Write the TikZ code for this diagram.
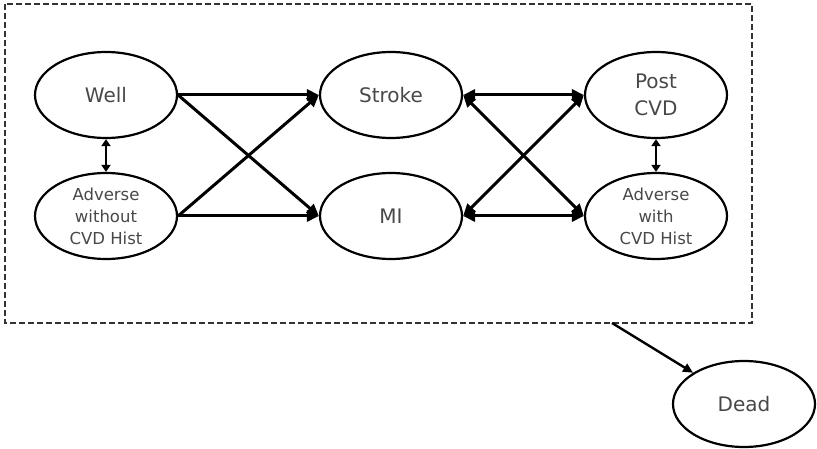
\documentclass[tikz,border=0pt]{standalone}
\usepackage{fontspec}
\setmainfont{DejaVu Sans}
\usetikzlibrary{shapes.geometric,arrows.meta}
\definecolor{txt}{HTML}{484848}
\tikzset{
  state/.style={ellipse, draw=black, line width=2.2pt, minimum width=142pt, minimum height=86pt, inner sep=0pt, text=txt, font=\fontsize{20}{22}\selectfont, align=center},
  smallstate/.style={state, font=\fontsize{16.5}{22}\selectfont},
  conn/.style={line width=3pt, -{Triangle[length=12pt,width=11pt]}},
  bconn/.style={line width=3pt, {Triangle[length=12pt,width=11pt]}-{Triangle[length=12pt,width=11pt]}},
  vconn/.style={line width=2.6pt, {Triangle[length=7pt,width=9pt]}-{Triangle[length=7pt,width=9pt]}},
  group/.style={draw=black!80, line width=2pt, dash pattern=on 6pt off 3pt}
}
\begin{document}
\begin{tikzpicture}[x=1pt,y=-1pt]
\useasboundingbox (0,0) rectangle (817,449);
\draw[group] (5,4) rectangle (752,323);
\node[state] (well) at (106,95) {Well};
\node[smallstate] (advwo) at (106,216) {Adverse\\without\\CVD Hist};
\node[state] (stroke) at (391,95) {Stroke};
\node[state] (mi) at (391,216) {MI};
\node[state, font=\fontsize{20}{27}\selectfont] (post) at (656,95) {Post\\CVD};
\node[smallstate] (advw) at (656,216) {Adverse\\with\\CVD Hist};
\node[state] (dead) at (744,404) {Dead};
\coordinate (boxout) at (612,323);
\draw[conn] (well.east) -- (stroke.west);
\draw[conn] (well.east) -- (mi.west);
\draw[conn] (advwo.east) -- (stroke.west);
\draw[conn] (advwo.east) -- (mi.west);
\draw[bconn] (stroke.east) -- (post.west);
\draw[bconn] (stroke.east) -- (advw.west);
\draw[bconn] (mi.east) -- (post.west);
\draw[bconn] (mi.east) -- (advw.west);
\draw[vconn] (well.south) -- (advwo.north);
\draw[vconn] (post.south) -- (advw.north);
\draw[line width=2.4pt, -{Triangle[length=10pt,width=9pt]}] (boxout) -- (dead);
\end{tikzpicture}
\end{document}
